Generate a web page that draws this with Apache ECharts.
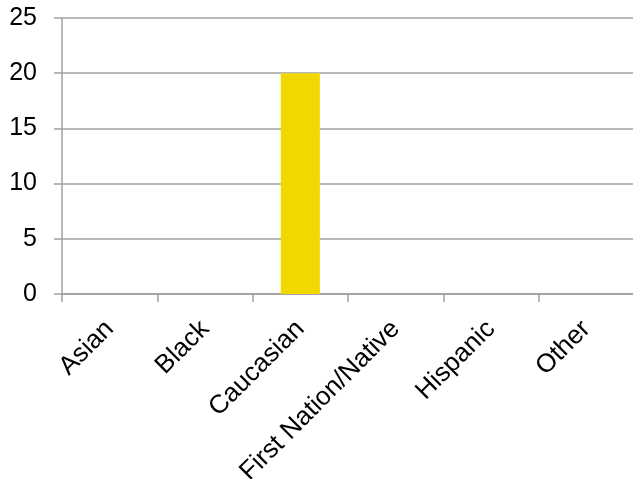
<!DOCTYPE html>
<html><head><meta charset="utf-8">
<script src="https://cdn.jsdelivr.net/npm/echarts@6/dist/echarts.min.js"></script>
<style>html,body{margin:0;padding:0;background:#fff}#c{width:633px;height:479px}</style>
</head><body><div id="c"></div>
<script>
const categories = ["Asian", "Black", "Caucasian", "First Nation/Native", "Hispanic", "Other"];
const values = [0, 0, 20, 0, 0, 0];
const yTicks = { min: 0, max: 25, interval: 5 };

const chart = echarts.init(document.getElementById('c'), null, { renderer: 'canvas' });
chart.setOption({
  animation: false,
  backgroundColor: '#ffffff',
  grid: { left: 62, right: -1, top: 18, bottom: 185, containLabel: false, outerBoundsMode: 'none' },
  xAxis: {
    type: 'category',
    data: categories,
    boundaryGap: true,
    axisLine: { show: true, lineStyle: { color: '#a0a0a0', width: 1.5 } },
    axisTick: { show: true, alignWithLabel: false, length: 8, inside: false, lineStyle: { color: '#a0a0a0', width: 1.5 } },
    axisLabel: { rotate: 45, margin: 31, color: '#000', fontFamily: 'Liberation Sans, Arial, sans-serif', fontSize: 26, interval: 0, hideOverlap: false },
    splitLine: { show: false }
  },
  yAxis: {
    type: 'value',
    min: yTicks.min, max: yTicks.max, interval: yTicks.interval,
    axisLine: { show: true, lineStyle: { color: '#a0a0a0', width: 1.5 } },
    axisTick: { show: true, length: 8, inside: false, lineStyle: { color: '#a0a0a0', width: 1.5 } },
    axisLabel: { margin: 25, color: '#000', fontFamily: 'Liberation Sans, Arial, sans-serif', fontSize: 25 },
    splitLine: { show: true, lineStyle: { color: '#a0a0a0', width: 1.5 } }
  },
  series: [{
    type: 'bar',
    data: values,
    barWidth: '41%',
    itemStyle: { color: '#f0d800' }
  }]
});
</script></body></html>
